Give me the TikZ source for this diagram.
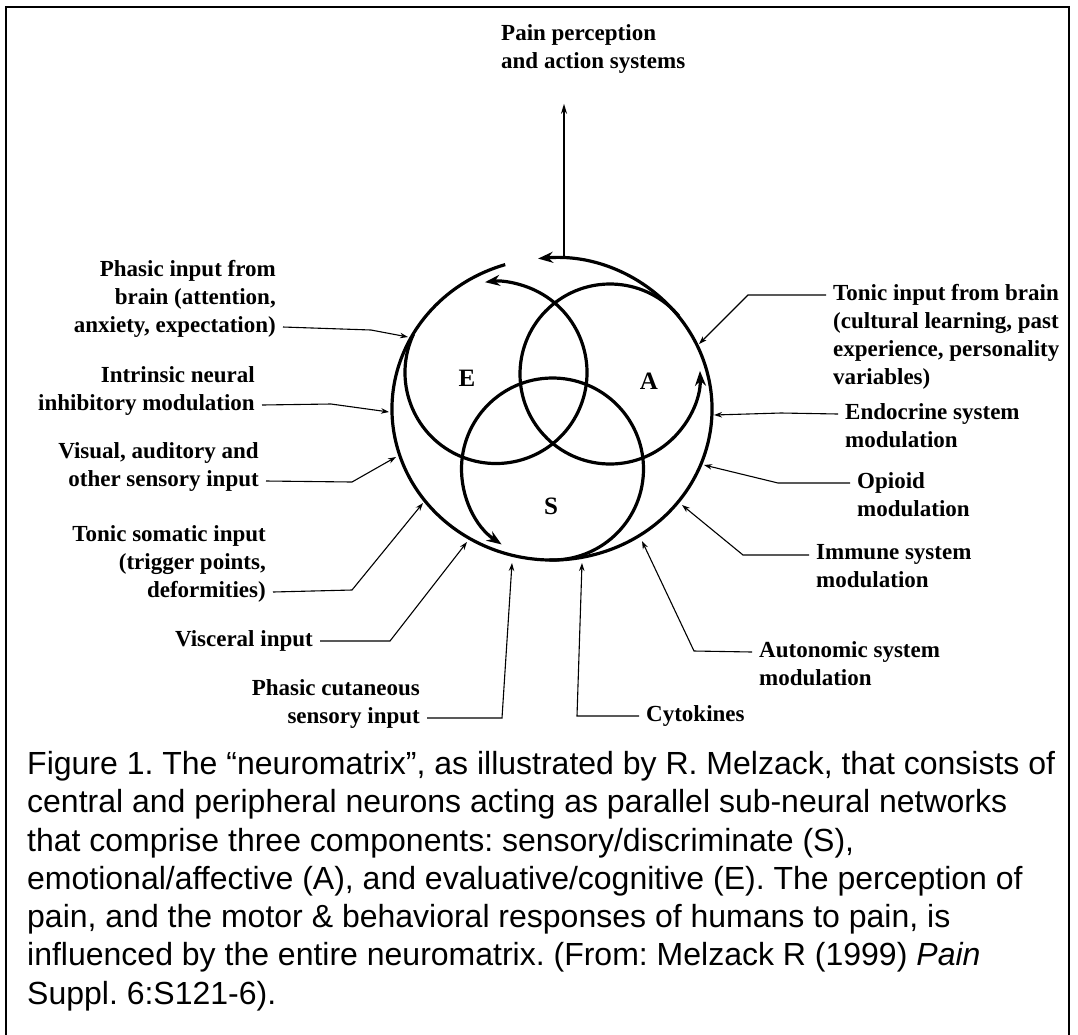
\documentclass[tikz,border=0pt]{standalone}
\usepackage{fontspec}
\setmainfont{Liberation Serif}
\newfontfamily\capfont{Liberation Sans}
\usetikzlibrary{arrows.meta}
\frenchspacing

\begin{document}
\begin{tikzpicture}[
    x=1pt, y=1pt,
    flow/.style={line width=3.2pt, -{Stealth[length=15pt,width=11pt]}},
    lead/.style={line width=1.1pt, -{Stealth[length=8pt,width=5.5pt]}},
    lbl/.style={inner sep=0pt, font=\fontsize{23}{28}\selectfont\bfseries},
    lft/.style={lbl, anchor=north east, align=right},
    rgt/.style={lbl, anchor=north west, align=left},
    ltr/.style={inner sep=0pt, font=\fontsize{25}{30}\selectfont\bfseries}
]
  \useasboundingbox (0,0) rectangle (1078,-1034);
  %--- frame ---
  \draw[line width=2.4pt] (6,-1040) -- (6,-7) -- (1069,-7) -- (1069,-1040);

  %--- circle centres ---
  \coordinate (cO) at (552,-409);
  \coordinate (cE) at (496,-372.5);
  \coordinate (cA) at (610,-374);
  \coordinate (cS) at (552.5,-469);

  %--- the loops ---
  \draw[flow] ([shift={(107:160 and 151)}]cO) arc[start angle=107, end angle=455, x radius=160, y radius=151];
  \draw[flow] ([shift={(155:91)}]cE) arc[start angle=155, end angle=457, radius=91];
  \draw[flow] ([shift={(40:90)}]cA) arc[start angle=40, end angle=362, radius=90];
  \draw[flow] ([shift={(268:91)}]cS) arc[start angle=268, end angle=596, radius=91];

  \node[ltr] (E) at (467,-378) {E};
  \node[ltr] (A) at (649,-381) {A};
  \node[ltr] (S) at (551,-506) {S};

  %--- output ---
  \node[rgt] (out) at (501,-24.5) {Pain perception\\and action systems};
  \coordinate (outB) at (564,-257);
  \draw[line width=1.4pt, -{Stealth[length=10pt,width=6pt]}, shorten >=30pt] (outB) -- (outB |- out.south);

  %--- inputs, left ---
  \node[lft] (pib) at (276,-260.5) {Phasic input from\\brain (attention,\\anxiety, expectation)};
  \node[lft] (inm) at (255,-366.5) {Intrinsic neural\\inhibitory modulation};
  \node[lft] (vis) at (259,-442.5) {Visual, auditory and\\other sensory input};
  \node[lft] (tsi) at (266,-525.5) {Tonic somatic input\\(trigger points,\\deformities)};
  \node[lft] (vin) at (313,-630.5) {Visceral input};
  \node[lft] (pcs) at (420,-679.5) {Phasic cutaneous\\sensory input};

  %--- inputs, right ---
  \node[rgt] (tib) at (833,-284.5) {Tonic input from brain\\(cultural learning, past\\experience, personality\\variables)};
  \node[rgt] (ecr) at (845,-403.5) {Endocrine system\\modulation};
  \node[rgt] (opi) at (857,-472.5) {Opioid\\modulation};
  \node[rgt] (imm) at (816,-544.5) {Immune system\\modulation};
  \node[rgt] (aut) at (759,-641.5) {Autonomic system\\modulation};
  \node[rgt] (cyt) at (646,-705.5) {Cytokines};

  %--- bends and tips ---
  \coordinate (pibK) at (371,-330);  \coordinate (pibT) at (408,-337);
  \coordinate (inmK) at (331,-404);  \coordinate (inmT) at (389,-412);
  \coordinate (visK) at (352,-482);  \coordinate (visT) at (396,-457);
  \coordinate (tsiK) at (352,-590);  \coordinate (tsiT) at (423,-503);
  \coordinate (vinK) at (390,-641);  \coordinate (vinT) at (467,-542);
  \coordinate (pcsK) at (502,-718);  \coordinate (pcsT) at (512,-563);
  \coordinate (tibK) at (748,-295);  \coordinate (tibT) at (699,-344);
  \coordinate (ecrK) at (781,-413);  \coordinate (ecrT) at (714,-415);
  \coordinate (opiK) at (778,-483);  \coordinate (opiT) at (704,-465);
  \coordinate (immK) at (743,-555);  \coordinate (immT) at (682,-505);
  \coordinate (autK) at (694,-651);  \coordinate (autT) at (642,-541);
  \coordinate (cytK) at (577,-716);  \coordinate (cytT) at (582,-563);

  %--- leaders ---
  \draw[lead] ([shift={(7,-66.5)}]pib.north east) -- (pibK) -- (pibT);
  \draw[lead] ([shift={(7,-38.5)}]inm.north east) -- (inmK) -- (inmT);
  \draw[lead] ([shift={(7,-38.5)}]vis.north east) -- (visK) -- (visT);
  \draw[lead] ([shift={(7,-66.5)}]tsi.north east) -- (tsiK) -- (tsiT);
  \draw[lead] ([shift={(7,-10.5)}]vin.north east) -- (vinK) -- (vinT);
  \draw[lead] ([shift={(7,-38.5)}]pcs.north east) -- (pcsK) -- (pcsT);
  \draw[lead] ([shift={(-7,-10.5)}]tib.north west) -- (tibK) -- (tibT);
  \draw[lead] ([shift={(-7,-10.5)}]ecr.north west) -- (ecrK) -- (ecrT);
  \draw[lead] ([shift={(-7,-10.5)}]opi.north west) -- (opiK) -- (opiT);
  \draw[lead] ([shift={(-7,-10.5)}]imm.north west) -- (immK) -- (immT);
  \draw[lead] ([shift={(-7,-10.5)}]aut.north west) -- (autK) -- (autT);
  \draw[lead] ([shift={(-7,-10.5)}]cyt.north west) -- (cytK) -- (cytT);

  %--- caption ---
  \node[inner sep=0pt, anchor=north west, align=left,
        font=\capfont\fontsize{32}{38.3}\selectfont] (cap) at (27,-751)
  {Figure 1. The “neuromatrix”, as illustrated by R. Melzack, that consists of\\
   central and peripheral neurons acting as parallel sub-neural networks\\
   that comprise three components: sensory/discriminate (S),\\
   emotional/affective (A), and evaluative/cognitive (E). The perception of\\
   pain, and the motor \& behavioral responses of humans to pain, is\\
   influenced by the entire neuromatrix. (From: Melzack R (1999) \textit{Pain}\\
   Suppl. 6:S121-6).};
\end{tikzpicture}
\end{document}
